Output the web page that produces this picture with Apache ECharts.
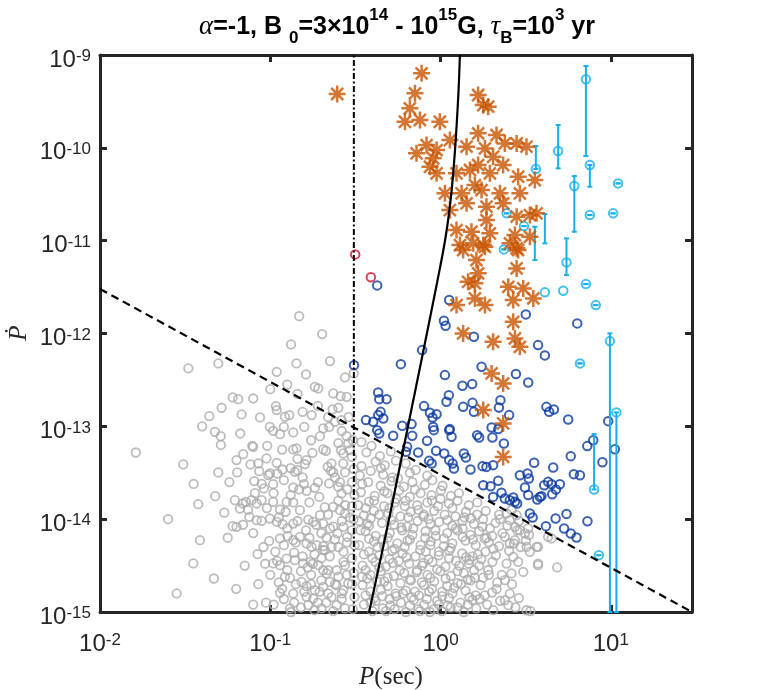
<!DOCTYPE html>
<html>
<head>
<meta charset="utf-8">
<script src="https://cdn.jsdelivr.net/npm/echarts@6/dist/echarts.min.js"></script>
<style>
  html, body { margin: 0; padding: 0; background: #fff; }
  #main { width: 763px; height: 690px; }
</style>
</head>
<body>
<div id="main"></div>
<script>
// all values are [log10 P (s), log10 Pdot]
var greyLog = [
  [-0.830,-11.813],[-0.695,-12.006],[-0.878,-12.118],[-0.649,-12.297],[-0.846,-12.322],[-1.481,-12.376],[-1.305,-12.322],
  [-0.962,-12.413],[-0.790,-12.441],[-0.561,-12.473],[-0.738,-12.574],[-0.718,-12.592],[-0.630,-12.646],[-0.587,-12.675],
  [-0.551,-12.682],[-1.221,-12.689],[-1.188,-12.707],[-1.286,-12.800],[-1.358,-12.890],[-1.168,-12.872],[-1.060,-12.904],
  [-0.967,-12.782],[-0.962,-12.825],[-0.888,-12.879],[-0.914,-12.897],[-0.810,-12.844],[-0.757,-12.879],[-0.634,-12.818],
  [-0.689,-13.023],[-0.654,-13.006],[-0.620,-12.951],[-0.581,-12.933],[-0.551,-13.106],[-0.542,-13.184],[-0.532,-13.257],
  [-1.002,-13.006],[-0.983,-13.048],[-0.943,-13.084],[-0.920,-13.006],[-0.865,-13.066],[-0.800,-13.006],[-0.708,-13.106],
  [-1.325,-13.059],[-1.291,-13.106],[-1.176,-13.077],[-1.106,-13.210],[-1.100,-13.221],[-1.018,-13.210],[-0.865,-13.249],
  [-0.846,-13.238],[-0.752,-13.285],[-0.689,-13.249],[-0.673,-13.264],[-0.585,-13.257],[-0.571,-13.292],[-1.790,-13.282],
  [-1.511,-13.410],[-1.198,-13.364],[-1.159,-13.300],[-1.116,-13.410],[-1.022,-13.346],[-0.962,-13.393],[-0.787,-13.364],
  [-0.796,-13.407],[-0.663,-13.436],[-0.644,-13.479],[-0.630,-13.497],[-0.571,-13.400],[-0.561,-13.497],[-1.305,-13.497],
  [-1.194,-13.497],[-1.065,-13.483],[-1.012,-13.526],[-1.002,-13.508],[-0.959,-13.508],[-0.928,-13.465],[-0.855,-13.490],
  [-0.841,-13.472],[-1.094,-13.590],[-1.037,-13.669],[-0.983,-13.623],[-0.865,-13.659],[-0.830,-13.680],[-0.802,-13.623],
  [-0.786,-13.695],[-0.738,-13.662],[-0.712,-13.760],[-0.654,-13.615],[-0.601,-13.652],[-0.581,-13.723],[-0.548,-13.680],
  [-1.323,-13.752],[-1.208,-13.795],[-1.162,-13.831],[-1.143,-13.813],[-1.110,-13.795],[-1.080,-13.831],[-1.051,-13.795],
  [-1.423,-13.838],[-0.983,-13.813],[-0.943,-13.896],[-0.904,-13.813],[-0.865,-13.820],[-0.826,-13.903],[-1.178,-13.885],
  [-1.123,-13.975],[-1.080,-14.011],[-1.051,-14.018],[-1.002,-13.993],[-1.221,-14.075],[-1.198,-14.082],[-0.962,-14.029],
  [-0.928,-14.054],[-0.865,-14.047],[-0.777,-14.004],[-0.708,-13.957],[-0.748,-14.029],[-0.689,-14.047],[-0.630,-13.867],
  [-0.591,-13.903],[-0.561,-13.939],[-0.532,-13.982],[-0.649,-14.100],[-0.605,-14.154],[-0.571,-14.082],[-0.548,-14.190],
  [-1.413,-14.226],[-1.006,-14.234],[-0.943,-14.208],[-0.898,-14.183],[-0.865,-14.226],[-0.826,-14.190],[-0.787,-14.262],
  [-0.757,-14.298],[-0.728,-14.280],[-0.689,-14.291],[-0.679,-14.334],[-0.639,-14.298],[-1.075,-14.377],[-1.452,-14.477],
  [-0.983,-14.477],[-0.943,-14.496],[-0.904,-14.424],[-0.855,-14.442],[-0.807,-14.477],[-0.763,-14.460],[-0.718,-14.496],
  [-0.689,-14.550],[-0.669,-14.585],[-0.610,-14.550],[-0.561,-14.496],[-1.331,-14.639],[-0.914,-14.621],[-0.884,-14.632],
  [-0.816,-14.676],[-0.787,-14.722],[-0.738,-14.765],[-0.689,-14.729],[-0.649,-14.676],[-0.610,-14.711],[-0.571,-14.765],
  [-0.542,-14.693],[-1.025,-14.900],[-0.943,-14.793],[-0.865,-14.801],[-0.787,-14.837],[-0.748,-14.855],[-0.884,-14.962],
  [-0.777,-14.927],[-0.699,-14.962],[-0.610,-14.927],[-0.561,-14.962],
  [-0.62,-13.55],[-0.60,-13.80],[-0.66,-13.95],[-0.58,-14.02],[-0.70,-14.15],[-0.62,-14.22],[-0.57,-14.35],[-0.65,-14.40],
  [-0.74,-14.38],[-0.60,-14.62],[-0.66,-14.80],[-0.58,-14.86],[-0.72,-14.90],[-0.82,-14.56],[-0.76,-14.60],
  [-0.515,-13.15],[-0.52,-13.33],[-0.51,-13.46],[-0.52,-13.60],[-0.505,-13.74],[-0.52,-13.86],[-0.51,-14.00],[-0.52,-14.12],
  [-0.505,-14.28],[-0.52,-14.42],[-0.51,-14.58],[-0.52,-14.70],[-0.505,-14.84],[-0.515,-14.97],[-0.51,-12.43],
  [-1.05,-13.62],[-0.98,-13.72],[-0.92,-13.58],[-0.88,-13.74],[-0.81,-13.55],[-0.77,-13.82],[-0.72,-13.60],[-0.68,-13.87],
  [-1.13,-13.90],[-1.02,-13.88],[-0.95,-13.98],[-0.90,-14.10],[-0.84,-14.02],[-0.79,-14.12],[-0.73,-14.06],[-0.67,-14.20],
  [-1.10,-14.15],[-1.04,-14.30],[-0.97,-14.35],[-0.92,-14.28],[-0.86,-14.36],[-0.81,-14.40],[-0.75,-14.48],[-0.70,-14.42],
  [-1.00,-14.60],[-0.95,-14.68],[-0.90,-14.55],[-0.85,-14.70],[-0.80,-14.78],[-0.76,-14.70],[-0.70,-14.66],[-0.64,-14.84],
  [-0.98,-14.92],[-0.92,-14.86],[-0.82,-14.95],[-0.74,-14.98],[-0.67,-14.90],[-0.63,-14.99],[-0.58,-14.80],[-0.55,-14.60],
  [-0.57,-14.46],[-0.60,-14.30],[-0.55,-14.25],[-0.63,-14.08],[-0.56,-13.85],[-0.59,-13.60],[-0.64,-13.40],[-0.60,-13.18],
  [-0.76,-13.15],[-0.84,-13.35],[-0.93,-13.25],[-1.07,-13.40],[-1.24,-13.60],[-1.27,-13.93],[-1.25,-14.20],[-1.15,-14.50],
  [-1.40,-13.00],[-1.45,-13.62],[-1.60,-14.00],[-1.55,-14.80],[-1.20,-14.75],[-1.10,-14.92],[-1.29,-13.20],[-0.72,-12.78],
  [-0.66,-12.90],[-0.60,-12.80],[-0.54,-12.90],[-0.58,-13.05],[-0.84,-12.65],[-0.90,-12.55],[-1.10,-12.70],[-1.00,-12.60],
  [-0.91,-13.92],[-0.85,-14.25],[-0.78,-14.52],[-0.71,-14.78],[-0.66,-14.55],[-0.62,-14.70],[-0.69,-14.33],[-0.77,-14.20],
  [-0.96,-14.45],[-1.03,-14.48],[-1.07,-14.70],[-0.86,-14.90],[-0.93,-14.75],[-1.16,-14.06],[-1.09,-13.72],[-0.88,-13.45],
  [-0.464,-13.17],[-0.405,-13.21],
  [-0.435,-13.28],[-0.356,-13.32],[-0.292,-13.27],
  [-0.464,-13.43],[-0.381,-13.38],[-0.327,-13.42],[-0.262,-13.37],[-0.204,-13.40],
  [-0.474,-13.53],[-0.410,-13.48],[-0.337,-13.52],[-0.282,-13.55],[-0.180,-13.50],[-0.146,-13.47],[-0.078,-13.53],
  [-0.425,-13.60],[-0.351,-13.64],[-0.288,-13.59],[-0.215,-13.65],[-0.165,-13.60],[-0.092,-13.63],[-0.048,-13.58],[0.012,-13.64],
  [-0.468,-13.71],[-0.386,-13.75],[-0.312,-13.72],[-0.243,-13.69],[-0.180,-13.76],[-0.117,-13.72],[-0.053,-13.74],[0.002,-13.69],[0.061,-13.75],[0.108,-13.72],
  [-0.483,-13.85],[-0.420,-13.81],[-0.332,-13.86],[-0.268,-13.82],[-0.205,-13.80],[-0.137,-13.85],[-0.078,-13.82],[-0.014,-13.86],[0.049,-13.83],[0.100,-13.80],[0.166,-13.85],[0.216,-13.82],
  [-0.450,-13.96],[-0.391,-13.91],[-0.307,-13.94],[-0.235,-13.97],[-0.175,-13.92],[-0.098,-13.95],[-0.037,-13.91],[0.025,-13.95],[0.088,-13.97],[0.149,-13.92],[0.215,-13.95],[0.266,-13.91],[0.344,-13.95],
  [-0.479,-14.02],[-0.420,-14.07],[-0.343,-14.04],[-0.272,-14.06],[-0.196,-14.08],[-0.135,-14.02],[-0.059,-14.05],[-0.008,-14.03],[0.069,-14.07],[0.129,-14.02],[0.196,-14.05],[0.246,-14.08],[0.323,-14.04],[0.393,-14.07],[0.462,-14.02],
  [-0.440,-14.13],[-0.380,-14.18],[-0.298,-14.15],[-0.225,-14.12],[-0.165,-14.17],[-0.088,-14.13],[-0.028,-14.18],[0.039,-14.15],[0.100,-14.12],[0.176,-14.17],[0.227,-14.13],[0.303,-14.18],[0.364,-14.15],[0.450,-14.12],[0.520,-14.17],
  [-0.478,-14.28],[-0.391,-14.24],[-0.331,-14.29],[-0.254,-14.26],[-0.194,-14.23],[-0.117,-14.28],[-0.057,-14.24],[0.019,-14.29],[0.070,-14.26],[0.147,-14.23],[0.207,-14.28],[0.284,-14.25],[0.344,-14.29],[0.431,-14.26],[0.501,-14.23],
  [-0.421,-14.35],[-0.360,-14.39],[-0.284,-14.34],[-0.223,-14.37],[-0.147,-14.40],[-0.086,-14.35],[-0.010,-14.39],[0.051,-14.34],[0.127,-14.37],[0.188,-14.40],[0.264,-14.35],[0.325,-14.39],[0.403,-14.34],
  [-0.458,-14.50],[-0.382,-14.46],[-0.321,-14.51],[-0.245,-14.45],[-0.184,-14.48],[-0.108,-14.50],[-0.047,-14.46],[0.029,-14.51],[0.090,-14.45],[0.166,-14.48],[0.227,-14.50],[0.305,-14.46],
  [-0.411,-14.60],[-0.351,-14.56],[-0.274,-14.61],[-0.213,-14.58],[-0.137,-14.55],[-0.077,-14.60],[0.000,-14.56],[0.061,-14.61],[0.137,-14.58],[0.197,-14.55],[0.284,-14.60],
  [-0.458,-14.71],[-0.372,-14.67],[-0.311,-14.72],[-0.235,-14.69],[-0.174,-14.66],[-0.098,-14.71],[-0.037,-14.67],[0.039,-14.72],[0.100,-14.69],[0.176,-14.66],[0.236,-14.71],[0.333,-14.68],
  [-0.411,-14.78],[-0.341,-14.83],[-0.264,-14.80],[-0.204,-14.77],[-0.127,-14.82],[-0.067,-14.78],[0.010,-14.83],[0.070,-14.80],[0.147,-14.77],[0.207,-14.82],[0.303,-14.79],
  [-0.450,-14.92],[-0.380,-14.88],[-0.294,-14.93],[-0.233,-14.90],[-0.157,-14.87],[-0.096,-14.92],[-0.020,-14.88],[0.041,-14.93],[0.117,-14.90],[0.188,-14.87],[0.274,-14.92],
  [-0.41,-13.99],[-0.29,-14.01],[-0.19,-13.98],[-0.07,-14.00],[0.04,-14.01],[0.14,-13.98],[0.25,-14.00],
  [-0.42,-14.21],[-0.31,-14.20],[-0.18,-14.22],[-0.09,-14.20],[0.02,-14.21],[0.13,-14.19],[0.26,-14.21],
  [-0.40,-14.42],[-0.30,-14.43],[-0.20,-14.41],[-0.07,-14.43],[0.05,-14.42],[0.15,-14.41],[0.24,-14.43],
  [-0.43,-14.64],[-0.31,-14.63],[-0.18,-14.65],[-0.06,-14.63],[0.03,-14.64],[0.16,-14.65],[0.25,-14.63],
  [-0.39,-14.85],[-0.30,-14.86],[-0.17,-14.84],[-0.08,-14.86],[0.05,-14.85],[0.17,-14.84],[0.23,-14.86],
  [-0.46,-13.62],[-0.44,-13.88],[-0.47,-14.12],[-0.45,-14.38],[-0.46,-14.62],[-0.44,-14.82],
  [-0.35,-13.45],[-0.33,-13.70],[-0.36,-13.95],[-0.34,-14.22],[-0.36,-14.52],[-0.35,-14.76],[-0.34,-14.96],
  [-0.25,-13.56],[-0.26,-13.78],[-0.23,-14.09],[-0.27,-14.32],[-0.24,-14.55],[-0.26,-14.83],
  [-0.15,-13.68],[-0.13,-13.90],[-0.16,-14.10],[-0.12,-14.33],[-0.14,-14.57],[-0.15,-14.78],[-0.13,-14.97],
  [-0.05,-13.80],[-0.03,-14.12],[-0.06,-14.28],[-0.02,-14.54],[-0.05,-14.75],[-0.01,-14.92],
  [0.07,-13.88],[0.09,-14.10],[0.06,-14.31],[0.10,-14.56],[0.08,-14.74],[0.06,-14.95],
  [0.18,-13.99],[0.19,-14.22],[0.17,-14.44],[0.20,-14.63],[0.16,-14.92],
  [0.29,-14.10],[0.31,-14.32],[0.28,-14.55],[0.33,-14.75],[0.35,-14.88],[0.42,-14.70],[0.46,-14.85],[0.47,-14.30],
  [-0.43,-14.05],[-0.37,-14.30],[-0.28,-14.47],[-0.21,-14.30],[-0.10,-14.47],[-0.01,-14.35],[0.11,-14.50],[0.22,-14.38],
  [-0.44,-14.55],[-0.33,-14.67],[-0.22,-14.80],[-0.11,-14.68],[0.01,-14.78],[0.12,-14.70],[0.26,-14.82],[0.36,-14.60],
  [-0.41,-14.90],[-0.27,-14.97],[-0.18,-14.93],[-0.04,-14.97],[0.10,-14.95],[0.21,-14.96],[0.31,-14.98],[0.44,-14.95],
  [-0.39,-13.80],[-0.30,-13.88],[-0.21,-13.86],[-0.10,-13.97],[0.00,-13.78],[0.13,-14.10],[0.27,-14.20],[0.35,-14.00],
  [-0.40,-14.99],[-0.32,-14.99],[-0.203,-15.00],[-0.121,-14.99],[-0.062,-15.00],[0.008,-14.99],[0.137,-15.00],[0.528,-14.99],[-0.878,-15.00],
  [0.388,-13.939],[0.417,-13.903],[0.447,-13.957],[0.407,-14.011],[0.437,-14.083],[0.466,-14.119],[0.496,-14.154],[0.515,-14.100],
  [0.564,-14.298],[0.525,-14.352],[0.505,-14.298],[0.437,-14.226],[0.407,-14.262],[0.378,-14.190],[0.427,-14.406],[0.388,-14.478],
  [0.456,-14.460],[0.486,-14.568],[0.417,-14.585],[0.378,-14.657],[0.407,-14.801],[0.378,-14.873],[0.398,-14.927],[0.505,-14.981],
  [0.573,-14.496],[0.685,-14.520],[0.652,-14.208],[0.573,-14.298],[0.573,-14.478],[0.632,-14.190]
];

var blueLog = [
  [-0.372,-11.482],[-0.508,-12.341],[0.051,-11.640],[0.020,-11.863],[0.030,-11.917],[0.196,-12.035],[0.501,-11.794],
  [0.803,-11.891],[0.573,-12.125],[0.613,-12.236],[-0.108,-12.179],[-0.233,-12.330],[0.241,-12.359],[0.026,-12.448],
  [0.129,-12.563],[0.186,-12.545],[0.443,-12.437],[0.515,-12.527],[-0.366,-12.635],[-0.360,-12.707],[-0.317,-12.707],
  [0.049,-12.664],[0.035,-12.736],[-0.097,-12.782],[0.133,-12.790],[0.188,-12.747],[0.352,-12.718],[0.343,-12.797],
  [0.196,-12.844],[-0.352,-12.844],[-0.366,-12.879],[-0.336,-12.915],[-0.438,-12.933],[-0.395,-12.951],[-0.062,-12.854],
  [-0.023,-12.869],[-0.047,-12.904],[0.403,-12.879],[0.622,-12.790],[0.666,-12.818],[0.638,-12.844],[0.750,-12.926],
  [-0.225,-12.995],[-0.170,-12.976],[-0.043,-13.006],[0.055,-13.030],[0.300,-13.012],[0.339,-13.030],
  [-0.372,-13.041],[-0.360,-13.077],[-0.278,-13.102],[-0.166,-13.102],[-0.196,-13.221],[-0.203,-13.275],[-0.131,-13.282],
  [-0.079,-13.156],[-0.039,-13.041],[-0.026,-13.264],[-0.067,-13.372],[-0.052,-13.400],[0.051,-13.041],[0.065,-13.113],
  [0.022,-13.292],[0.051,-13.364],[0.071,-13.400],[0.079,-13.454],[0.137,-13.292],[0.149,-13.335],[0.176,-13.465],
  [0.215,-13.095],[0.227,-13.120],[0.247,-13.429],[0.270,-13.437],[0.309,-13.418],[0.305,-13.120],[0.372,-13.184],
  [0.251,-13.634],[0.294,-13.645],[0.339,-13.587],[0.309,-13.760],[0.358,-13.716],[0.378,-13.777],[0.407,-13.795],
  [0.427,-13.766],[0.437,-13.813],[0.450,-13.831],[0.466,-13.526],[0.511,-13.508],[0.519,-13.561],[0.496,-13.659],
  [0.515,-13.741],[0.568,-13.788],[0.584,-13.760],[0.550,-13.393],[0.525,-13.939],[0.541,-13.982],[0.609,-13.634],
  [0.632,-13.598],[0.619,-14.075],[0.985,-12.944],[1.024,-13.246],[0.897,-13.149],[0.862,-13.213],[0.951,-13.386],
  [0.765,-13.321],[0.662,-13.443],[0.783,-13.515],[0.819,-13.526],[0.652,-13.623],[0.701,-13.623],[0.678,-13.680],
  [0.656,-13.731],[0.593,-13.752],[0.740,-13.943],[0.863,-14.022],[0.676,-13.993],[0.726,-14.100],[0.765,-14.154],
  [0.799,-14.197]
];

var redLog = [[-0.501,-11.148],[-0.409,-11.395]];

var starLog = [
  [-0.607,-9.420],[-0.111,-9.197],[-0.150,-9.413],[-0.180,-9.574],[-0.209,-9.719],[-0.121,-9.700],[-0.004,-9.719],
  [0.221,-9.431],[0.251,-9.539],[0.280,-9.557],[0.221,-9.844],[0.329,-9.862],[-0.082,-9.970],[-0.023,-10.024],
  [0.055,-9.916],[-0.141,-10.059],[-0.043,-10.113],[0.153,-9.988],[0.261,-10.006],[0.378,-9.952],[0.447,-9.952],
  [0.505,-9.988],[-0.062,-10.204],[-0.023,-10.275],[0.094,-10.275],[0.173,-10.239],[0.221,-10.185],[0.309,-10.096],
  [0.368,-10.185],[0.290,-10.275],[0.456,-10.311],[0.554,-10.347],[0.026,-10.490],[0.124,-10.490],[0.202,-10.401],
  [0.241,-10.455],[0.349,-10.490],[0.466,-10.490],[0.055,-10.670],[0.153,-10.598],[0.270,-10.634],[0.368,-10.598],
  [0.447,-10.742],[0.525,-10.724],[0.564,-10.706],[0.094,-10.886],[0.182,-10.904],[0.270,-10.778],[0.290,-10.921],
  [0.437,-10.939],[0.525,-10.958],[0.114,-11.047],[0.192,-11.029],[0.251,-11.047],[0.408,-11.029],[0.447,-11.083],
  [0.447,-11.299],[0.398,-11.497],[0.486,-11.514],[0.545,-11.622],[0.133,-11.101],[0.261,-11.066],[0.456,-11.101],
  [0.211,-11.209],[0.221,-11.352],[0.162,-11.443],[0.202,-11.460],[0.202,-11.622],[0.261,-11.694],[0.427,-11.640],
  [0.094,-11.694],[0.427,-11.874],[0.133,-11.999],[0.309,-12.089],[0.437,-12.053],[0.466,-12.143],[0.300,-12.430],
  [0.368,-12.538],[0.251,-12.825],[0.368,-12.969],[0.368,-13.329]
];

var magnetarLog = [
  [0.854,-9.262],[0.691,-10.034],[0.560,-10.228],[0.877,-10.185],[0.786,-10.412],[1.043,-10.383],[1.014,-10.706],
  [0.877,-10.724],[0.388,-10.706],[0.490,-10.843],[0.372,-11.094],[0.740,-11.234],[0.613,-11.557],[0.721,-11.539],
  [0.854,-11.468],[0.912,-11.694],[0.819,-12.322],[0.995,-12.082],[1.033,-12.850],[0.902,-13.680],[0.930,-14.388]
];
// [log10 P, log10 Pdot low, log10 Pdot high]
var magnetarErrLog = [
  [0.854,-10.088,-9.119],[0.691,-10.221,-9.754],[0.560,-10.228,-9.981],[0.877,-10.419,-10.185],[0.786,-10.904,-10.304],
  [1.043,-10.383,-10.383],[1.014,-10.706,-10.706],[0.877,-10.724,-10.724],[0.388,-10.706,-10.706],[0.490,-10.843,-10.843],
  [0.372,-11.094,-11.094],[0.613,-11.029,-10.713],[0.554,-11.209,-10.850],[0.740,-11.371,-10.975],[0.854,-11.468,-11.468],
  [0.912,-11.694,-11.694],[0.819,-12.322,-12.322],[0.995,-15.0,-11.999],[1.033,-15.0,-12.850],[0.902,-13.680,-13.084],
  [0.930,-14.388,-14.388]
];

var deathLineLog = [[-2, -11.52], [1.477, -15.0]];
var periodCutLog = [[-0.509, -15], [-0.509, -9]];
var trackLog = [
  [-0.425,-15.05],[-0.30,-13.98],[-0.20,-13.08],[-0.10,-12.18],[-0.02,-11.45],[0.03,-10.96],
  [0.06,-10.55],[0.08,-10.15],[0.095,-9.75],[0.106,-9.38],[0.114,-9.00]
];

var xTicks = [-2, -1, 0, 1];
var yTicks = [-15, -14, -13, -12, -11, -10, -9];

function lin(arr) {
  return arr.map(function (p) {
    return p.map(function (v) { return Math.pow(10, v); });
  });
}

var ink = '#262626';
var cGrey = '#ababab', cBlue = '#0a3a9f', cOrange = '#c85400', cCyan = '#14b0ee', cRed = '#d4122f';

function logAxis(pos, min, max) {
  return {
    type: 'log', logBase: 10, position: pos, min: min, max: max,
    axisLine: { show: true, onZero: false, lineStyle: { color: ink, width: 3 } },
    axisTick: { show: true, inside: true, length: 7, lineStyle: { color: ink, width: 3 } },
    minorTick: { show: false },
    splitLine: { show: false },
    axisLabel: { show: false }
  };
}

var asterisk = 'path://M8 0L8 16M0 8L16 8M2.34 2.34L13.66 13.66M2.34 13.66L13.66 2.34';

var chart = echarts.init(document.getElementById('main'), null, { renderer: 'canvas' });

var option = {
  backgroundColor: '#ffffff',
  animation: false,
  grid: { left: 100, right: 71, top: 55, bottom: 78, containLabel: false, outerBoundsMode: 'none' },
  xAxis: [logAxis('bottom', 0.01, 30), logAxis('top', 0.01, 30)],
  yAxis: [logAxis('left', 1e-15, 1e-9), logAxis('right', 1e-15, 1e-9)],
  series: [
    {
      name: 'pulsars', type: 'scatter', data: lin(greyLog), symbol: 'circle', symbolSize: 8.5,
      itemStyle: { color: 'rgba(0,0,0,0)', borderColor: cGrey, borderWidth: 1.8 }, z: 2
    },
    {
      name: 'above', type: 'scatter', data: lin(blueLog), symbol: 'circle', symbolSize: 8.5,
      itemStyle: { color: 'rgba(0,0,0,0)', borderColor: cBlue, borderWidth: 2 }, z: 3
    },
    {
      name: 'red', type: 'scatter', data: lin(redLog), symbol: 'circle', symbolSize: 8.5,
      itemStyle: { color: 'rgba(0,0,0,0)', borderColor: cRed, borderWidth: 2 }, z: 3
    },
    {
      name: 'errors', type: 'custom', data: lin(magnetarErrLog), z: 4,
      renderItem: function (params, api) {
        var x = api.value(0);
        var a = api.coord([x, api.value(1)]);
        var b = api.coord([x, api.value(2)]);
        var w = 2.5;
        var st = { stroke: cCyan, lineWidth: 2 };
        return {
          type: 'group',
          children: [
            { type: 'line', shape: { x1: a[0], y1: a[1], x2: b[0], y2: b[1] }, style: st },
            { type: 'line', shape: { x1: a[0] - w, y1: a[1], x2: a[0] + w, y2: a[1] }, style: st },
            { type: 'line', shape: { x1: b[0] - w, y1: b[1], x2: b[0] + w, y2: b[1] }, style: st }
          ]
        };
      }
    },
    {
      name: 'magnetars', type: 'scatter', data: lin(magnetarLog), symbol: 'circle', symbolSize: 8.5,
      itemStyle: { color: 'rgba(0,0,0,0)', borderColor: cCyan, borderWidth: 2 }, z: 4
    },
    {
      name: 'simulated', type: 'scatter', data: lin(starLog), symbol: asterisk, symbolSize: 17,
      itemStyle: { color: 'none', borderColor: cOrange, borderWidth: 2.5 }, z: 5
    },
    {
      name: 'death', type: 'line', data: lin(deathLineLog), symbol: 'none', z: 6,
      lineStyle: { color: '#000', width: 2.2, type: [8, 5] }
    },
    {
      name: 'cut', type: 'line', data: lin(periodCutLog), symbol: 'none', z: 6,
      lineStyle: { color: '#000', width: 2, type: [6, 2.5, 2, 2.5] }
    },
    {
      name: 'track', type: 'line', data: lin(trackLog), symbol: 'none', smooth: 0.4, z: 6, clip: true,
      lineStyle: { color: '#000', width: 2.2 }
    }
  ]
};

chart.setOption(option);

// tick labels as 10^n with raised exponents, placed through the axes' own scales
var tickRich = {
  b: { fontSize: 24, fontFamily: 'Liberation Sans', fill: ink, lineHeight: 24, verticalAlign: 'bottom' },
  s: { fontSize: 17, fontFamily: 'Liberation Sans', fill: ink, lineHeight: 6, verticalAlign: 'top' }
};
var gridBottom = chart.convertToPixel({ yAxisIndex: 0 }, 1e-15);
var gridLeft = chart.convertToPixel({ xAxisIndex: 0 }, 0.01);
var graphics = [];
xTicks.forEach(function (e) {
  graphics.push({
    type: 'text', x: chart.convertToPixel({ xAxisIndex: 0 }, Math.pow(10, e)), y: gridBottom + 20,
    style: { text: '{b|10}{s|' + e + '}', align: 'center', verticalAlign: 'top', rich: tickRich }
  });
});
yTicks.forEach(function (e) {
  graphics.push({
    type: 'text', x: gridLeft - 9, y: chart.convertToPixel({ yAxisIndex: 0 }, Math.pow(10, e)) + 5,
    style: { text: '{b|10}{s|' + e + '}', align: 'right', verticalAlign: 'middle', rich: tickRich }
  });
});
graphics.push({
  type: 'text', x: 397, y: 27,
  style: {
    text: '{g|α}{t|=-1, B }{sb|0}{t|=3×10}{sp|14}{t| - 10}{sp|15}{t|G, }{g|τ}{sb|B}{t|=10}{sp|3}{t| yr}',
    align: 'center', verticalAlign: 'middle',
    rich: {
      t: { fontSize: 25, fontWeight: 'bold', fontFamily: 'Liberation Sans', fill: '#000', lineHeight: 40 },
      g: { fontSize: 27, fontStyle: 'italic', fontFamily: 'Liberation Serif', fill: '#000', lineHeight: 40 },
      sp: { fontSize: 17, fontWeight: 'bold', fontFamily: 'Liberation Sans', fill: '#000', lineHeight: 17, verticalAlign: 'top' },
      sb: { fontSize: 17, fontWeight: 'bold', fontFamily: 'Liberation Sans', fill: '#000', lineHeight: 17, verticalAlign: 'bottom' }
    }
  }
});
graphics.push({
  type: 'text', x: 391, y: 677,
  style: {
    text: '{i|P}{r|(sec)}', align: 'center', verticalAlign: 'middle',
    rich: {
      i: { fontSize: 25, fontStyle: 'italic', fontFamily: 'Liberation Serif', fill: ink },
      r: { fontSize: 25, fontFamily: 'Liberation Serif', fill: ink }
    }
  }
});
graphics.push({
  type: 'text', x: 19, y: 333, rotation: Math.PI / 2,
  style: {
    text: 'Ṗ', align: 'center', verticalAlign: 'middle',
    fontSize: 25, fontStyle: 'italic', fontFamily: 'Liberation Serif', fill: ink
  }
});
chart.setOption({ graphic: graphics });
</script>
</body>
</html>
